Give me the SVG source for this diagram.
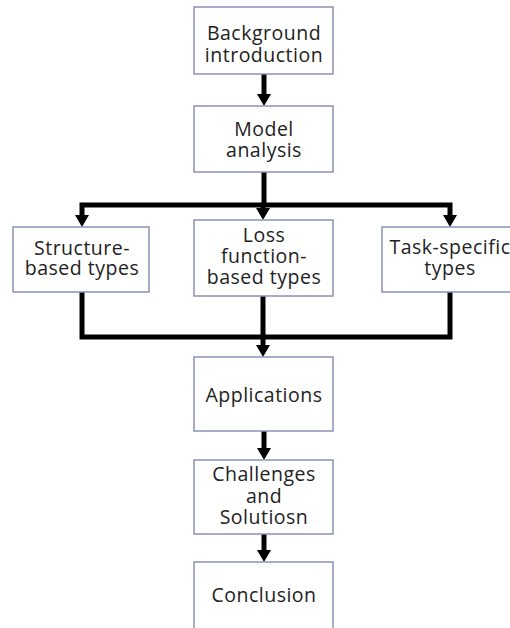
<svg xmlns="http://www.w3.org/2000/svg" width="510" height="628" viewBox="0 0 510 628">
<defs>
<style>
.box{fill:#ffffff;stroke:#8a91b8;stroke-width:1.5}
.t{font-family:"Open Sans","Noto Sans",sans-serif;font-size:19.5px;letter-spacing:0.5px;fill:#222222;text-anchor:middle}
.c{fill:none;stroke:#000000;stroke-width:5;stroke-linejoin:miter}
.h{fill:#000000}
</style>
</defs>
<rect width="510" height="628" fill="#ffffff"/>
<g id="connectors">
<line class="c" x1="264" y1="74" x2="264" y2="95"/>
<path class="h" d="M257,94 L271,94 L264,106 Z"/>
<line class="c" x1="264" y1="172" x2="264" y2="205"/>
<polyline class="c" points="82,215 82,205 450,205 450,215"/>
<line class="c" x1="263" y1="205" x2="263" y2="209"/>
<path class="h" d="M75,215 L89,215 L82,227 Z"/>
<path class="h" d="M256,208 L270,208 L263,220 Z"/>
<path class="h" d="M443,215 L457,215 L450,227 Z"/>
<polyline class="c" points="82,292 82,337 450,337 450,292"/>
<line class="c" x1="263" y1="296" x2="263" y2="346"/>
<path class="h" d="M256,345 L270,345 L263,357 Z"/>
<line class="c" x1="264" y1="431" x2="264" y2="449"/>
<path class="h" d="M257,448 L271,448 L264,460 Z"/>
<line class="c" x1="264" y1="534" x2="264" y2="551"/>
<path class="h" d="M257,550 L271,550 L264,562 Z"/>
</g>
<g id="n-background"><rect class="box" x="194" y="7" width="139" height="67"/><text class="t" x="264" y="40">Background</text><text class="t" x="264" y="62">introduction</text></g>
<g id="n-model"><rect class="box" x="194" y="106" width="139" height="66"/><text class="t" x="264" y="136">Model</text><text class="t" x="264" y="157">analysis</text></g>
<g id="n-structure"><rect class="box" x="13" y="227" width="136" height="65"/><text class="t" x="82" y="255">Structure-</text><text class="t" x="82" y="275">based types</text></g>
<g id="n-loss"><rect class="box" x="194" y="220" width="139" height="76"/><text class="t" x="264" y="242">Loss</text><text class="t" x="264" y="263">function-</text><text class="t" x="264" y="284">based types</text></g>
<g id="n-task"><rect class="box" x="382" y="227" width="136" height="65"/><text class="t" x="450" y="254">Task-specific</text><text class="t" x="450" y="275">types</text></g>
<g id="n-applications"><rect class="box" x="194" y="357" width="139" height="74"/><text class="t" x="264" y="402">Applications</text></g>
<g id="n-challenges"><rect class="box" x="194" y="460" width="139" height="74"/><text class="t" x="264" y="481">Challenges</text><text class="t" x="264" y="503">and</text><text class="t" x="264" y="524">Solutiosn</text></g>
<g id="n-conclusion"><rect class="box" x="194" y="562" width="139" height="75"/><text class="t" x="264" y="602">Conclusion</text></g>
</svg>
